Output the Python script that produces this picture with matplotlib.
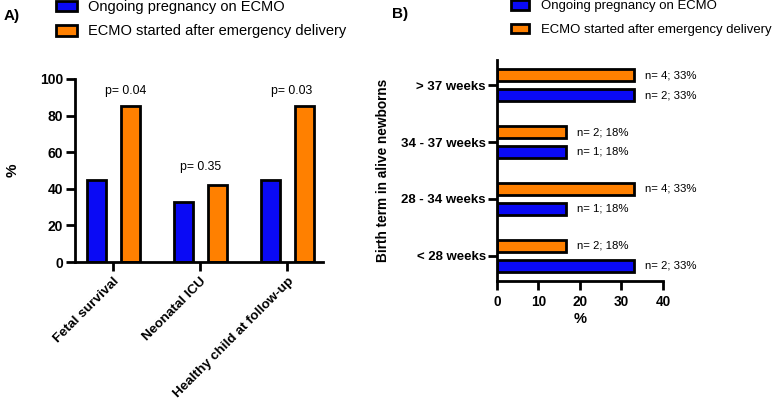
import matplotlib
matplotlib.use("Agg")
import matplotlib.pyplot as plt
import numpy as np
from matplotlib.patches import Patch

plt.rcParams['font.family'] = ['Liberation Sans', 'DejaVu Sans']

# Panel A data
outcomes = ["Fetal survival", "Neonatal ICU", "Healthy child at follow-up"]
ongoing_a = [45, 33, 45]
after_a = [85, 42, 85]
pvals = ["p= 0.04", "p= 0.35", "p= 0.03"]

# Panel B data
terms = ["< 28 weeks", "28 - 34 weeks", "34 - 37 weeks", "> 37 weeks"]
ongoing_b = [33, 16.6, 16.6, 33]
after_b = [16.6, 33, 16.6, 33]
ongoing_lbl = ["n= 2; 33%", "n= 1; 18%", "n= 1; 18%", "n= 2; 33%"]
after_lbl = ["n= 2; 18%", "n= 4; 33%", "n= 2; 18%", "n= 4; 33%"]

labels = ["Ongoing pregnancy on ECMO", "ECMO started after emergency delivery"]
BLUE = "#0a0af5"
ORANGE = "#ff8000"
LW = 2.0

fig = plt.figure(figsize=(7.83, 4.01), dpi=100)

# ---------- Panel A ----------
axA = fig.add_axes([0.0958, 0.3466, 0.3167, 0.4564])
x = np.arange(len(outcomes))
w = 0.22
off = 0.195
axA.bar(x - off, ongoing_a, w, color=BLUE, edgecolor="black", linewidth=LW)
axA.bar(x + off, after_a, w, color=ORANGE, edgecolor="black", linewidth=LW)
pval_dx = [0.14, 0.0, 0.05]
pval_dy = [8.5, 10, 8.5]
for i, p in enumerate(pvals):
    top = max(ongoing_a[i], after_a[i])
    axA.text(x[i] + pval_dx[i], top + pval_dy[i], p, ha="center", va="center", fontsize=8.8)
axA.set_xlim(-0.44, 2.41)
axA.set_ylim(0, 100)
axA.set_yticks([0, 20, 40, 60, 80, 100])
axA.set_xticks(x)
axA.set_xticklabels(outcomes, rotation=45, ha="right", rotation_mode="anchor",
                    fontweight="bold", fontsize=9.7)
for t in axA.get_yticklabels():
    t.set_fontweight("bold")
    t.set_fontsize(10)
axA.set_ylabel("%", fontweight="bold", fontsize=11)
axA.yaxis.set_label_coords(-0.225, 0.5)
for s in ["top", "right"]:
    axA.spines[s].set_visible(False)
for s in ["left", "bottom"]:
    axA.spines[s].set_linewidth(LW)
axA.tick_params(width=LW, length=6.5)
axA.tick_params(axis="x", pad=3)
axA.tick_params(axis="y", pad=2)

# ---------- Panel B ----------
axB = fig.add_axes([0.6347, 0.2993, 0.2120, 0.5511])
y = np.arange(len(terms))
h = 0.21
yoff = 0.175
axB.barh(y - yoff, ongoing_b, h, color=BLUE, edgecolor="black", linewidth=LW)
axB.barh(y + yoff, after_b, h, color=ORANGE, edgecolor="black", linewidth=LW)
for i in range(len(terms)):
    axB.text(ongoing_b[i] + 2.6, y[i] - yoff, ongoing_lbl[i], va="center", ha="left", fontsize=8.2)
    axB.text(after_b[i] + 2.6, y[i] + yoff, after_lbl[i], va="center", ha="left", fontsize=8.2)
axB.set_ylim(-0.44, 3.44)
axB.set_xlim(0, 40)
axB.set_xticks([0, 10, 20, 30, 40])
axB.set_yticks(y)
axB.set_yticklabels(terms, fontweight="bold", fontsize=9.5)
for t in axB.get_xticklabels():
    t.set_fontweight("bold")
    t.set_fontsize(9.8)
axB.set_xlabel("%", fontweight="bold", fontsize=10.5)
axB.xaxis.set_label_coords(0.5, -0.14)
axB.set_ylabel("Birth term in alive newborns", fontweight="bold", fontsize=9.8)
axB.yaxis.set_label_coords(-0.645, 0.5)
for s in ["top", "right"]:
    axB.spines[s].set_visible(False)
for s in ["left", "bottom"]:
    axB.spines[s].set_linewidth(LW)
axB.tick_params(width=LW, length=6.5)
axB.tick_params(axis="y", pad=1.5)

# ---------- Legends ----------
handles = [Patch(facecolor=BLUE, edgecolor="black", linewidth=LW),
           Patch(facecolor=ORANGE, edgecolor="black", linewidth=LW)]
fig.legend(handles, labels, loc="upper left", bbox_to_anchor=(0.071, 1.0),
           frameon=False, fontsize=10.5, handlelength=1.45, handleheight=0.7,
           handletextpad=0.75, labelspacing=0.72, borderpad=0.0, borderaxespad=0.0)
fig.legend(handles, labels, loc="upper left", bbox_to_anchor=(0.652, 1.0),
           frameon=False, fontsize=9.45, handlelength=1.4, handleheight=0.75,
           handletextpad=0.9, labelspacing=0.85, borderpad=0.0, borderaxespad=0.0)

fig.text(0.004, 0.96, "A)", fontweight="bold", fontsize=11, va="center")
fig.text(0.501, 0.965, "B)", fontweight="bold", fontsize=11, va="center")

fig.savefig("out.png", dpi=100)
